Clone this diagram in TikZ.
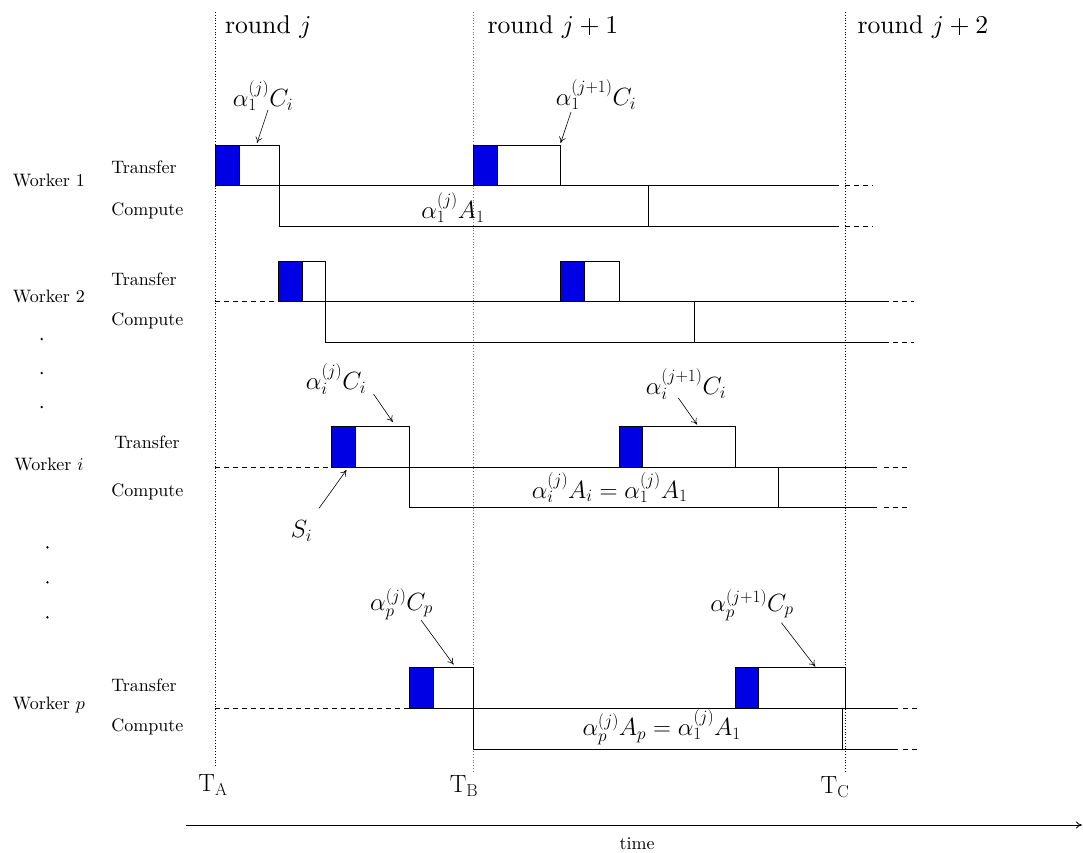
\documentclass[tikz,border=0pt]{standalone}
\usetikzlibrary{arrows.meta}
\definecolor{myblue}{RGB}{0,0,228}
\begin{document}
\begin{tikzpicture}[x=1pt,y=-1pt,
  ln/.style={line width=0.8pt},
  wbox/.style={draw, line width=0.8pt, fill=white},
  bbox/.style={draw, line width=0.8pt, fill=myblue},
  vline/.style={dotted, line width=0.8pt},
  dsh/.style={line width=0.8pt, dash pattern=on 5pt off 4pt},
  lbl/.style={font=\fontsize{10}{12}\selectfont, scale=1.8, inner sep=0pt, anchor=base west},
  rnd/.style={font=\fontsize{10}{12}\selectfont, scale=2.57, inner sep=0pt, anchor=base west},
  mlbl/.style={font=\fontsize{24}{28}\selectfont, inner sep=0pt},
  arr/.style={-{To[length=6pt,width=7pt]}, line width=0.6pt}]
\useasboundingbox (0,0) rectangle (1083,852);

% vertical round separators
\draw[vline] (215,12) -- (215,767);
\draw[vline, black!55] (473.5,12) -- (473.5,772);
\draw[vline] (845.7,12) -- (845.7,772);

\node[rnd] (r1) at (224.5,33) {round $j$};
\node[rnd] (r2) at (487,33) {round $j+1$};
\node[rnd] (r3) at (857,33) {round $j+2$};

% ---------------- Worker 1
\node[lbl] (w1) at (12.5,186.5) {Worker 1};
\node[lbl] (w1t) at (111,173.5) {Transfer};
\node[lbl] (w1c) at (111,215) {Compute};
\draw[ln] (215,185.7) -- (839,185.7);
\draw[dsh] (845,185.7) -- (873,185.7);
\draw[ln] (279,185.7) -- (279,226) -- (839,226);
\draw[dsh] (845,226) -- (873,226);
\draw[ln] (648.7,185.7) -- (648.7,226);
\draw[bbox] (215,145) rectangle (239,185.7);
\draw[wbox] (239,145) rectangle (279,185.7);
\draw[bbox] (473.5,145) rectangle (497.4,185.7);
\draw[wbox] (497.4,145) rectangle (560.6,185.7);

% ---------------- Worker 2
\node[lbl] (w2) at (12.5,302) {Worker 2};
\node[lbl] (w2t) at (111,285) {Transfer};
\node[lbl] (w2c) at (111,325) {Compute};
\draw[dsh] (215,301.7) -- (278.8,301.7);
\draw[ln] (278.8,301.7) -- (888.5,301.7);
\draw[dsh] (893,301.7) -- (914,301.7);
\draw[ln] (325.5,301.7) -- (325.5,342.3) -- (888.5,342.3);
\draw[dsh] (893,342.3) -- (914,342.3);
\draw[ln] (694.4,301.7) -- (694.4,342.3);
\draw[bbox] (278.8,261) rectangle (302.7,301.7);
\draw[wbox] (302.7,261) rectangle (325.5,301.7);
\draw[bbox] (560.6,261) rectangle (584.8,301.7);
\draw[wbox] (584.8,261) rectangle (619,301.7);

% dots
\fill (41.7,339) circle (1.3);
\fill (41.7,373) circle (1.3);
\fill (41.7,407) circle (1.3);

% ---------------- Worker i
\node[lbl] (wi) at (14,470) {Worker $i$};
\node[lbl] (wit) at (114,448.5) {Transfer};
\node[lbl] (wic) at (111,496) {Compute};
\draw[dsh] (215,467.3) -- (331.5,467.3);
\draw[ln] (331.5,467.3) -- (877.3,467.3);
\draw[dsh] (884,467.3) -- (908,467.3);
\draw[ln] (409.7,467.3) -- (409.7,507.7) -- (877.3,507.7);
\draw[dsh] (884,507.7) -- (908,507.7);
\draw[ln] (778.8,467.3) -- (778.8,507.7);
\draw[bbox] (331.5,426.7) rectangle (355,467.3);
\draw[wbox] (355,426.7) rectangle (409.7,467.3);
\draw[bbox] (619,426.7) rectangle (642.4,467.3);
\draw[wbox] (642.4,426.7) rectangle (735.3,467.3);

% dots
\fill (47.4,547.3) circle (1.3);
\fill (47.4,582.3) circle (1.3);
\fill (47.4,617.3) circle (1.3);

% ---------------- Worker p
\node[lbl] (wp) at (12.5,709) {Worker $p$};
\node[lbl] (wpt) at (111,691.7) {Transfer};
\node[lbl] (wpc) at (111,731.7) {Compute};
\draw[dsh] (215,708.3) -- (473.5,708.3);
\draw[ln] (473.5,708.3) -- (897.8,708.3);
\draw[dsh] (903,708.3) -- (918,708.3);
\draw[ln] (473.5,708.3) -- (473.5,749) -- (897.8,749);
\draw[dsh] (903,749) -- (918,749);
\draw[ln] (842.4,708.3) -- (842.4,749);
\draw[bbox] (409.7,667.7) rectangle (433.5,708.3);
\draw[wbox] (433.5,667.7) rectangle (473.5,708.3);
\draw[bbox] (735.3,667.7) rectangle (758.4,708.3);
\draw[wbox] (758.4,667.7) rectangle (845.7,708.3);

% ---------------- math labels
\node[mlbl] (l1) at (263,96) {$\alpha_1^{(j)}C_i$};
\node[mlbl] (l2) at (596,95) {$\alpha_1^{(j+1)}C_i$};
\node[mlbl] (a1) at (453,207.5) {$\alpha_1^{(j)}A_1$};
\node[mlbl] (li) at (336,379) {$\alpha_i^{(j)}C_i$};
\node[mlbl] (li2) at (686,384) {$\alpha_i^{(j+1)}C_i$};
\node[mlbl] (ai) at (609.6,487.5) {$\alpha_i^{(j)}A_i=\alpha_1^{(j)}A_1$};
\node[mlbl] (si) at (301.5,531) {$S_i$};
\node[mlbl] (lp) at (401.5,604) {$\alpha_p^{(j)}C_p$};
\node[mlbl] (lp2) at (752,605) {$\alpha_p^{(j+1)}C_p$};
\node[mlbl] (ap) at (661.7,727.5) {$\alpha_p^{(j)}A_p=\alpha_1^{(j)}A_1$};
\node[mlbl] (ta) at (213,785) {$\mathrm{T}_\mathrm{A}$};
\node[mlbl] (tb) at (464,786) {$\mathrm{T}_\mathrm{B}$};
\node[mlbl] (tc) at (835,787) {$\mathrm{T}_\mathrm{C}$};

% arrow end points
\coordinate (l1s) at (268,110);   \coordinate (l1e) at (257,143);
\coordinate (l2s) at (571,112);   \coordinate (l2e) at (560.6,143);
\coordinate (lis) at (373.5,394); \coordinate (lie) at (392.8,422);
\coordinate (li2s) at (678.4,398); \coordinate (li2e) at (697,424.5);
\coordinate (sis) at (319,508.3); \coordinate (sie) at (346.5,470);
\coordinate (lps) at (421,620);   \coordinate (lpe) at (453.5,664.5);
\coordinate (lp2s) at (781.4,622.7); \coordinate (lp2e) at (815.2,666.5);
\draw[arr] (l1s) -- (l1e);
\draw[arr] (l2s) -- (l2e);
\draw[arr] (lis) -- (lie);
\draw[arr] (li2s) -- (li2e);
\draw[arr] (sis) -- (sie);
\draw[arr] (lps) -- (lpe);
\draw[arr] (lp2s) -- (lp2e);

% time axis
\coordinate (t0) at (186,825);
\coordinate (t1) at (1082,825);
\draw[arr, line width=0.8pt] (t0) -- (t1);
\node[font=\fontsize{10}{12}\selectfont, scale=1.8, inner sep=0pt, anchor=base] (time) at (637,849) {time};
\end{tikzpicture}
\end{document}
